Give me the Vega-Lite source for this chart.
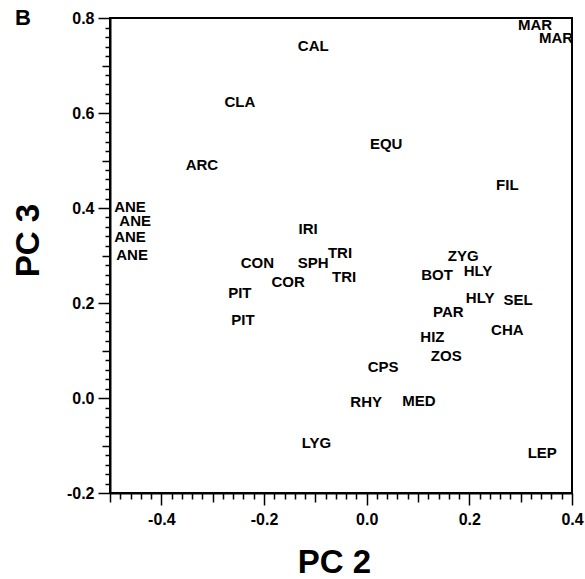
{
  "$schema": "https://vega.github.io/schema/vega-lite/v6.json",
  "width": 462,
  "height": 475,
  "autosize": {"type": "none"},
  "padding": {"left": 110, "top": 18, "right": 13, "bottom": 86},
  "config": {"view": {"stroke": "black", "strokeWidth": 2}},
  "title": {"text": "B", "anchor": "start", "frame": "group", "fontSize": 22, "fontWeight": "bold", "font": "Liberation Sans", "color": "black", "dx": -95, "dy": 27, "offset": -10, "baseline": "alphabetic"},
  "data": {"values": [
    {"name": "CAL", "pc2": -0.104, "pc3": 0.741},
    {"name": "CLA", "pc2": -0.247, "pc3": 0.623},
    {"name": "ARC", "pc2": -0.321, "pc3": 0.491},
    {"name": "EQU", "pc2": 0.038, "pc3": 0.535},
    {"name": "FIL", "pc2": 0.274, "pc3": 0.448},
    {"name": "MAR", "pc2": 0.328, "pc3": 0.785},
    {"name": "MAR", "pc2": 0.369, "pc3": 0.758},
    {"name": "ANE", "pc2": -0.461, "pc3": 0.402},
    {"name": "ANE", "pc2": -0.451, "pc3": 0.373},
    {"name": "ANE", "pc2": -0.461, "pc3": 0.339},
    {"name": "ANE", "pc2": -0.457, "pc3": 0.301},
    {"name": "IRI", "pc2": -0.114, "pc3": 0.356},
    {"name": "CON", "pc2": -0.213, "pc3": 0.284},
    {"name": "COR", "pc2": -0.153, "pc3": 0.244},
    {"name": "PIT", "pc2": -0.247, "pc3": 0.221},
    {"name": "PIT", "pc2": -0.241, "pc3": 0.164},
    {"name": "SPH", "pc2": -0.104, "pc3": 0.284},
    {"name": "TRI", "pc2": -0.052, "pc3": 0.305},
    {"name": "TRI", "pc2": -0.044, "pc3": 0.255},
    {"name": "ZYG", "pc2": 0.188, "pc3": 0.299},
    {"name": "BOT", "pc2": 0.137, "pc3": 0.259},
    {"name": "HLY", "pc2": 0.217, "pc3": 0.267},
    {"name": "HLY", "pc2": 0.221, "pc3": 0.211},
    {"name": "SEL", "pc2": 0.295, "pc3": 0.206},
    {"name": "PAR", "pc2": 0.159, "pc3": 0.181},
    {"name": "CHA", "pc2": 0.274, "pc3": 0.143},
    {"name": "HIZ", "pc2": 0.128, "pc3": 0.128},
    {"name": "ZOS", "pc2": 0.155, "pc3": 0.088},
    {"name": "CPS", "pc2": 0.032, "pc3": 0.065},
    {"name": "RHY", "pc2": -0.001, "pc3": -0.008},
    {"name": "MED", "pc2": 0.102, "pc3": -0.006},
    {"name": "LYG", "pc2": -0.098, "pc3": -0.095},
    {"name": "LEP", "pc2": 0.342, "pc3": -0.116}
  ]},
  "mark": {"type": "text", "font": "Liberation Sans", "fontWeight": "bold", "fontSize": 15, "color": "black", "align": "center", "baseline": "middle"},
  "encoding": {
    "text": {"field": "name"},
    "x": {"field": "pc2", "type": "quantitative", "scale": {"domain": [-0.5, 0.4], "nice": false, "zero": false},
      "axis": {"grid": false,
        "values": [-0.5,-0.48,-0.46,-0.44,-0.42,-0.4,-0.38,-0.36,-0.34,-0.32,-0.3,-0.28,-0.26,-0.24,-0.22,-0.2,-0.18,-0.16,-0.14,-0.12,-0.1,-0.08,-0.06,-0.04,-0.02,0,0.02,0.04,0.06,0.08,0.1,0.12,0.14,0.16,0.18,0.2,0.22,0.24,0.26,0.28,0.3,0.32,0.34,0.36,0.38,0.4],
        "labelExpr": "abs(datum.value * 5 - round(datum.value * 5)) > 0.001 || datum.value < -0.45 ? '' : (datum.value < 0 ? '-' + format(abs(datum.value), '.1f') : format(datum.value, '.1f'))",
        "labelOverlap": false, "labelFlush": false, "labelBound": false,
        "labelFont": "Liberation Sans", "labelFontWeight": "bold", "labelFontSize": 16, "labelColor": "black", "labelPadding": 6,
        "tickSize": {"condition": [{"test": "abs(datum.value * 5 - round(datum.value * 5)) < 0.001", "value": 12}, {"test": "abs(datum.value * 10 - round(datum.value * 10)) < 0.001", "value": 9}], "value": 6},
        "tickColor": "black", "tickWidth": 1.5, "domainColor": "black", "domainWidth": 2,
        "title": "PC  2", "titleFont": "Liberation Sans", "titleFontSize": 33, "titleFontWeight": "bold", "titleColor": "black",
        "titleX": 224, "titleY": 79, "titleBaseline": "alphabetic", "titleAlign": "center"}},
    "y": {"field": "pc3", "type": "quantitative", "scale": {"domain": [-0.2, 0.8], "nice": false, "zero": false},
      "axis": {"grid": false,
        "values": [-0.2,-0.18,-0.16,-0.14,-0.12,-0.1,-0.08,-0.06,-0.04,-0.02,0,0.02,0.04,0.06,0.08,0.1,0.12,0.14,0.16,0.18,0.2,0.22,0.24,0.26,0.28,0.3,0.32,0.34,0.36,0.38,0.4,0.42,0.44,0.46,0.48,0.5,0.52,0.54,0.56,0.58,0.6,0.62,0.64,0.66,0.68,0.7,0.72,0.74,0.76,0.78,0.8],
        "labelExpr": "abs(datum.value * 5 - round(datum.value * 5)) > 0.001 ? '' : (datum.value < 0 ? '-' + format(abs(datum.value), '.1f') : format(datum.value, '.1f'))",
        "labelOverlap": false, "labelFlush": false, "labelBound": false,
        "labelFont": "Liberation Sans", "labelFontWeight": "bold", "labelFontSize": 16, "labelColor": "black", "labelPadding": 4,
        "tickSize": {"condition": [{"test": "abs(datum.value * 5 - round(datum.value * 5)) < 0.001", "value": 12}, {"test": "abs(datum.value * 10 - round(datum.value * 10)) < 0.001", "value": 8}], "value": 5},
        "tickColor": "black", "tickWidth": 1.5, "domainColor": "black", "domainWidth": 2,
        "title": "PC  3", "titleFont": "Liberation Sans", "titleFontSize": 33, "titleFontWeight": "bold", "titleColor": "black",
        "titleX": -72, "titleY": 222, "titleAngle": -90, "titleBaseline": "alphabetic", "titleAlign": "center"}}
  }
}
